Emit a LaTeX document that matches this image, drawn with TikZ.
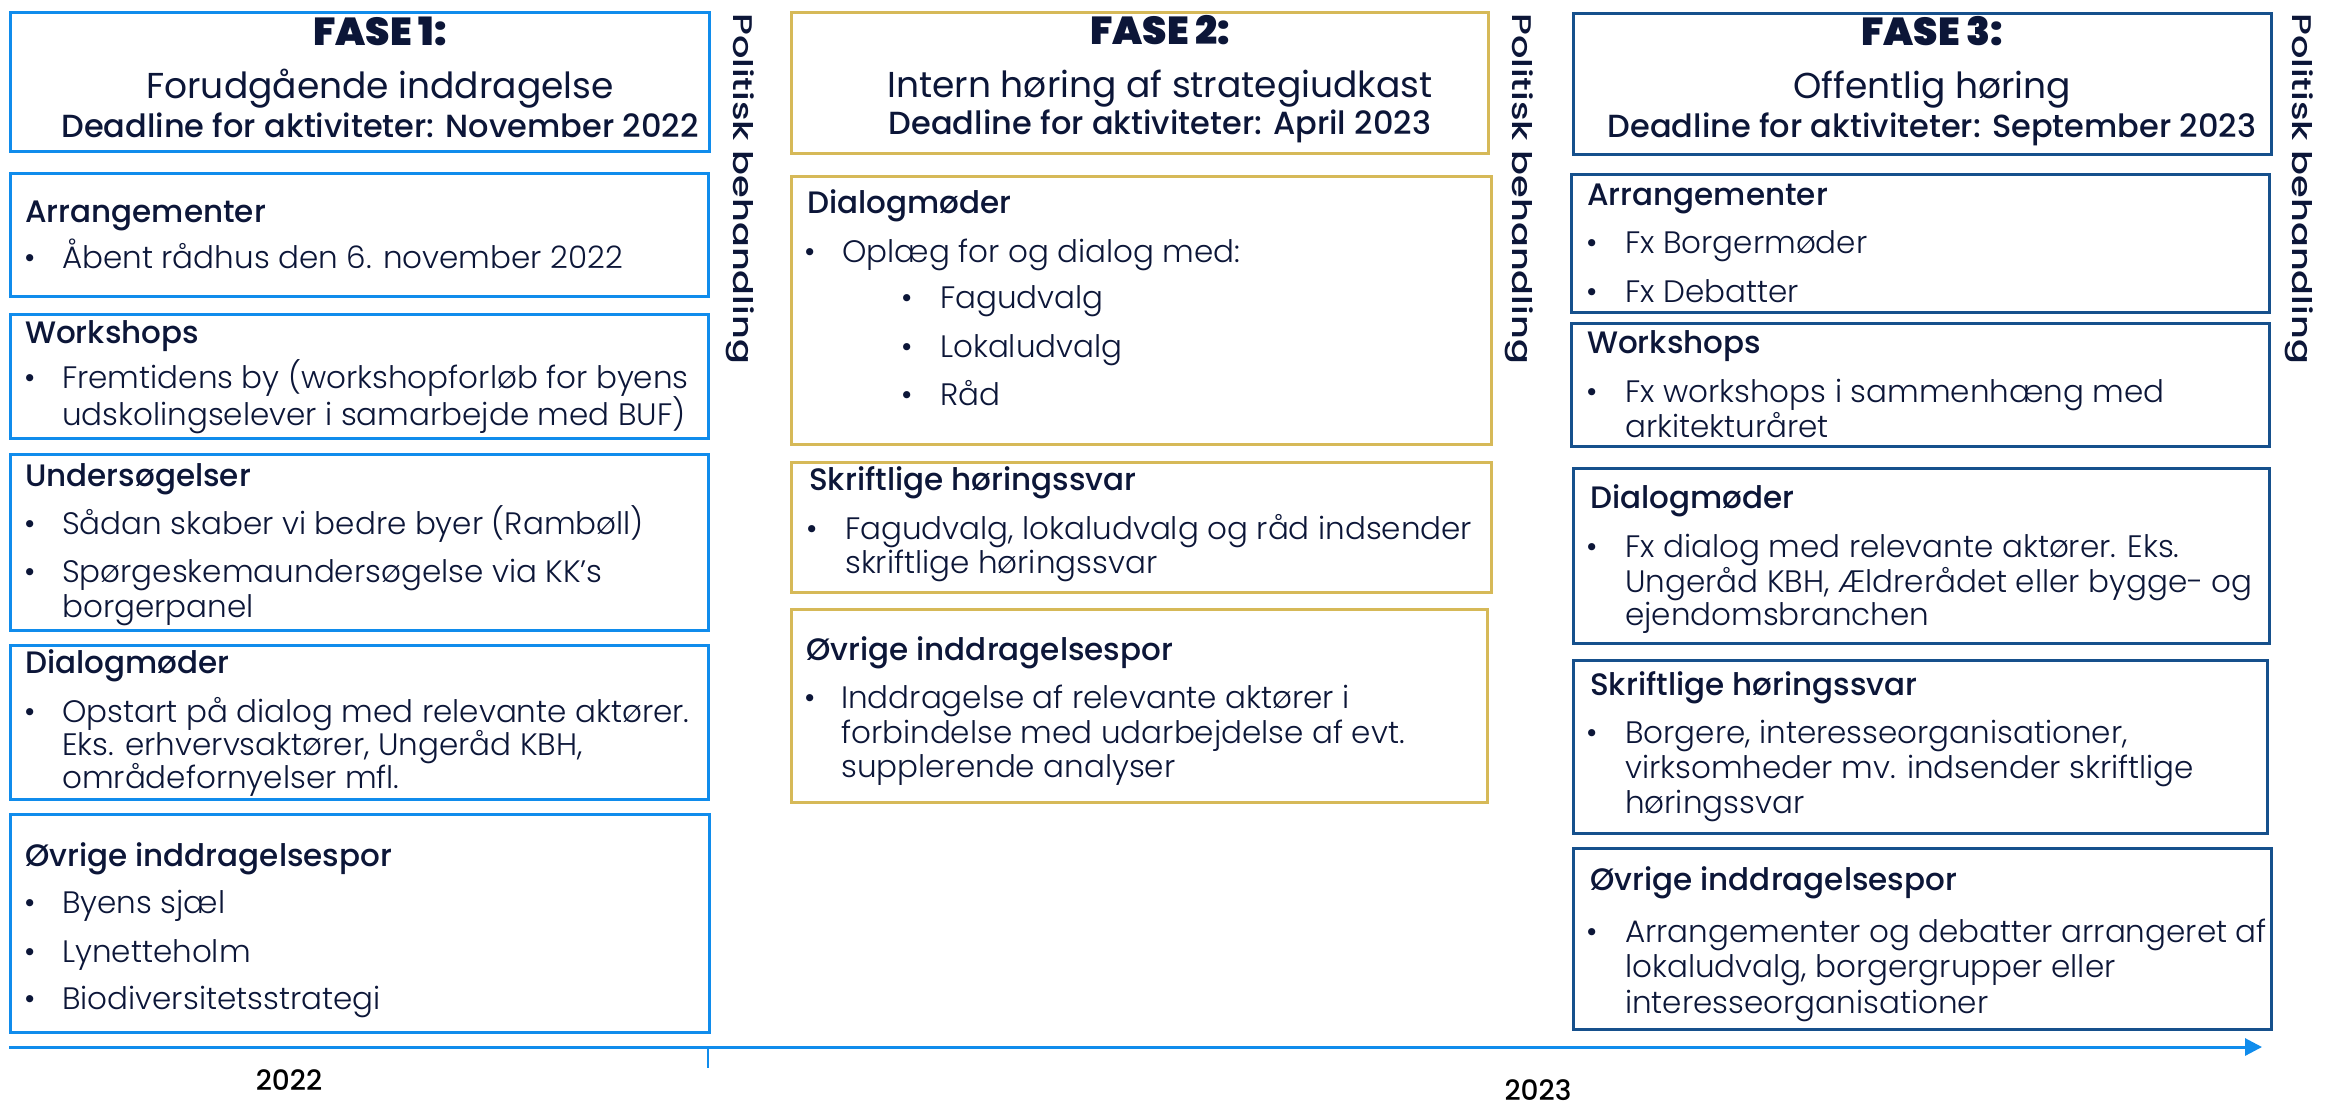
\documentclass[tikz,border=0pt]{standalone}
\usepackage{fontspec}
\usetikzlibrary{arrows.meta}
\setmainfont{Poppins}[UprightFont={* Light},BoldFont={* Medium}]
\newfontfamily\regfont{Poppins}
\newfontfamily\medfont{Poppins Medium}
\newfontfamily\fasefont{Poppins Black}
\definecolor{cone}{RGB}{16,140,236}
\definecolor{ctwo}{RGB}{214,185,88}
\definecolor{cthree}{RGB}{22,80,140}
\definecolor{ink}{RGB}{12,22,56}
\tikzset{
  boxst/.style={line width=2.6pt, inner sep=0pt, anchor=north west, rectangle},
  ttlst/.style={anchor=base west, inner sep=0pt, text=ink, font=\medfont\fontsize{31}{35}\selectfont},
  txtst/.style={anchor=base west, inner sep=0pt, text=ink, font=\fontsize{31}{35}\selectfont},
  dotst/.style={anchor=base, inner sep=0pt, text=ink, font=\fontsize{31}{35}\selectfont},
  fasest/.style={anchor=base, inner sep=0pt, text=ink, font=\fasefont\fontsize{39}{42}\selectfont},
  subst/.style={anchor=base, inner sep=0pt, text=ink, font=\regfont\fontsize{36}{40}\selectfont},
  deadst/.style={anchor=base, inner sep=0pt, text=ink, font=\medfont\fontsize{32}{36}\selectfont},
  polst/.style={anchor=base west, inner sep=0pt, text=ink, rotate=-90, xscale=1.36, font=\medfont\fontsize{27}{30}\selectfont},
  yearst/.style={anchor=base, inner sep=0pt, text=black, font=\medfont\fontsize{28}{30}\selectfont},
}
\newcommand\bx[6]{\node[boxst,draw=#2,minimum width={#5pt-#3pt},minimum height={#6pt-#4pt}] (#1) at (#3,#4) {};}
\newcommand\ttl[4]{\node[ttlst] (#1) at (#2,#3) {#4};}
\newcommand\txl[4]{\node[txtst] (#1) at (#2,#3) {#4};}
\newcommand\dotb[3]{\node[dotst] (#1) at (#2,#3) {•};}
\begin{document}
\begin{tikzpicture}[x=1pt,y=-1pt]
\useasboundingbox[fill=white] (0,0) rectangle (2325,1109);
% ---------- column 1 ----------
\bx{hone}{cone}{9}{11}{708}{150}
\node[fasest] (fone) at (380,45) {FASE 1:};
\node[subst] (sone) at (380,98) {Forudgående inddragelse};
\node[deadst] (done) at (380,137) {Deadline for aktiviteter: November 2022};
\bx{oa}{cone}{9}{172}{707}{295}
\ttl{oat}{25}{222}{Arrangementer}
\dotb{oab}{30}{268}\txl{oa1}{62}{268}{Åbent rådhus den 6. november 2022}
\bx{ob}{cone}{9}{313}{707}{437}
\ttl{obt}{25}{343}{Workshops}
\dotb{obb}{30}{388}\txl{ob1}{62}{388}{Fremtidens by (workshopforløb for byens}
\txl{ob2}{62}{425}{udskolingselever i samarbejde med BUF)}
\bx{oc}{cone}{9}{453}{707}{629}
\ttl{oct}{25}{486}{Undersøgelser}
\dotb{ocb}{30}{534}\txl{oc1}{62}{534}{Sådan skaber vi bedre byer (Rambøll)}
\dotb{ocd}{30}{582}\txl{oc2}{62}{582}{Spørgeskemaundersøgelse via KK’s}
\txl{oc3}{62}{617}{borgerpanel}
\bx{od}{cone}{9}{644}{707}{798}
\ttl{odt}{25}{673}{Dialogmøder}
\dotb{odb}{30}{722}\txl{od1}{62}{722}{Opstart på dialog med relevante aktører.}
\txl{od2}{62}{755}{Eks. erhvervsaktører, Ungeråd KBH,}
\txl{od3}{62}{788}{områdefornyelser mfl.}
\bx{oe}{cone}{9}{813}{708}{1031}
\ttl{oet}{25}{866}{Øvrige inddragelsespor}
\dotb{oeb}{30}{913}\txl{oe1}{62}{913}{Byens sjæl}
\dotb{oec}{30}{962}\txl{oe2}{62}{962}{Lynetteholm}
\dotb{oed}{30}{1009}\txl{oe3}{62}{1009}{Biodiversitetsstrategi}
\node[polst] (pone) at (733,13) {Politisk behandling};
% ---------- column 2 ----------
\bx{htwo}{ctwo}{790}{11}{1487}{152}
\node[fasest] (ftwo) at (1160,44) {FASE 2:};
\node[subst] (stwo) at (1160,97) {Intern høring af strategiudkast};
\node[deadst] (dtwo) at (1160,134) {Deadline for aktiviteter: April 2023};
\bx{ta}{ctwo}{790}{175}{1490}{443}
\ttl{tat}{807}{213}{Dialogmøder}
\dotb{tab}{810}{262}\txl{ta1}{842}{262}{Oplæg for og dialog med:}
\dotb{tac}{907}{308}\txl{ta2}{940}{308}{Fagudvalg}
\dotb{tad}{907}{357}\txl{ta3}{940}{357}{Lokaludvalg}
\dotb{tae}{907}{405}\txl{ta4}{940}{405}{Råd}
\bx{tb}{ctwo}{790}{461}{1490}{591}
\ttl{tbt}{809}{490}{Skriftlige høringssvar}
\dotb{tbb}{812}{539}\txl{tb1}{845}{539}{Fagudvalg, lokaludvalg og råd indsender}
\txl{tb2}{845}{573}{skriftlige høringssvar}
\bx{tc}{ctwo}{790}{608}{1486}{801}
\ttl{tct}{806}{660}{Øvrige inddragelsespor}
\dotb{tcb}{810}{708}\txl{tc1}{841}{708}{Inddragelse af relevante aktører i}
\txl{tc2}{841}{743}{forbindelse med udarbejdelse af evt.}
\txl{tc3}{841}{777}{supplerende analyser}
\node[polst] (ptwo) at (1512,13) {Politisk behandling};
% ---------- column 3 ----------
\bx{hthree}{cthree}{1572}{12}{2270}{153}
\node[fasest] (fthree) at (1932,45) {FASE 3:};
\node[subst] (sthree) at (1932,98) {Offentlig høring};
\node[deadst] (dthree) at (1932,137) {Deadline for aktiviteter: September 2023};
\bx{ra}{cthree}{1570}{173}{2268}{311}
\ttl{rat}{1587}{205}{Arrangementer}
\dotb{rab}{1592}{253}\txl{ra1}{1625}{253}{Fx Borgermøder}
\dotb{rac}{1592}{302}\txl{ra2}{1625}{302}{Fx Debatter}
\bx{rb}{cthree}{1570}{322}{2268}{445}
\ttl{rbt}{1587}{353}{Workshops}
\dotb{rbb}{1592}{402}\txl{rb1}{1625}{402}{Fx workshops i sammenhæng med}
\txl{rb2}{1625}{437}{arkitekturåret}
\bx{rc}{cthree}{1572}{467}{2268}{642}
\ttl{rct}{1590}{508}{Dialogmøder}
\dotb{rcb}{1592}{557}\txl{rc1}{1625}{557}{Fx dialog med relevante aktører. Eks.}
\txl{rc2}{1625}{592}{Ungeråd KBH, Ældrerådet eller bygge- og}
\txl{rc3}{1625}{625}{ejendomsbranchen}
\bx{rd}{cthree}{1572}{659}{2266}{832}
\ttl{rdt}{1590}{695}{Skriftlige høringssvar}
\dotb{rdb}{1592}{743}\txl{rd1}{1625}{743}{Borgere, interesseorganisationer,}
\txl{rd2}{1625}{778}{virksomheder mv. indsender skriftlige}
\txl{rd3}{1625}{813}{høringssvar}
\bx{re}{cthree}{1572}{847}{2270}{1028}
\ttl{ret}{1590}{890}{Øvrige inddragelsespor}
\dotb{reb}{1592}{942}\txl{re1}{1625}{942}{Arrangementer og debatter arrangeret af}
\txl{re2}{1625}{977}{lokaludvalg, borgergrupper eller}
\txl{re3}{1625}{1013}{interesseorganisationer}
\node[polst] (pthree) at (2292,13) {Politisk behandling};
% ---------- timeline ----------
\coordinate (tls) at (9,1047);
\coordinate (tle) at (2262,1047);
\coordinate (tka) at (708,1047);
\coordinate (tkb) at (708,1068);
\draw[cone, line width=3pt, -{Triangle[length=17pt,width=17pt]}] (tls) -- (tle);
\draw[cone, line width=1.2pt] (tka) -- (tkb);
\node[yearst] (yone) at (289,1090) {2022};
\node[yearst] (ytwo) at (1538,1100) {2023};
\end{tikzpicture}
\end{document}
